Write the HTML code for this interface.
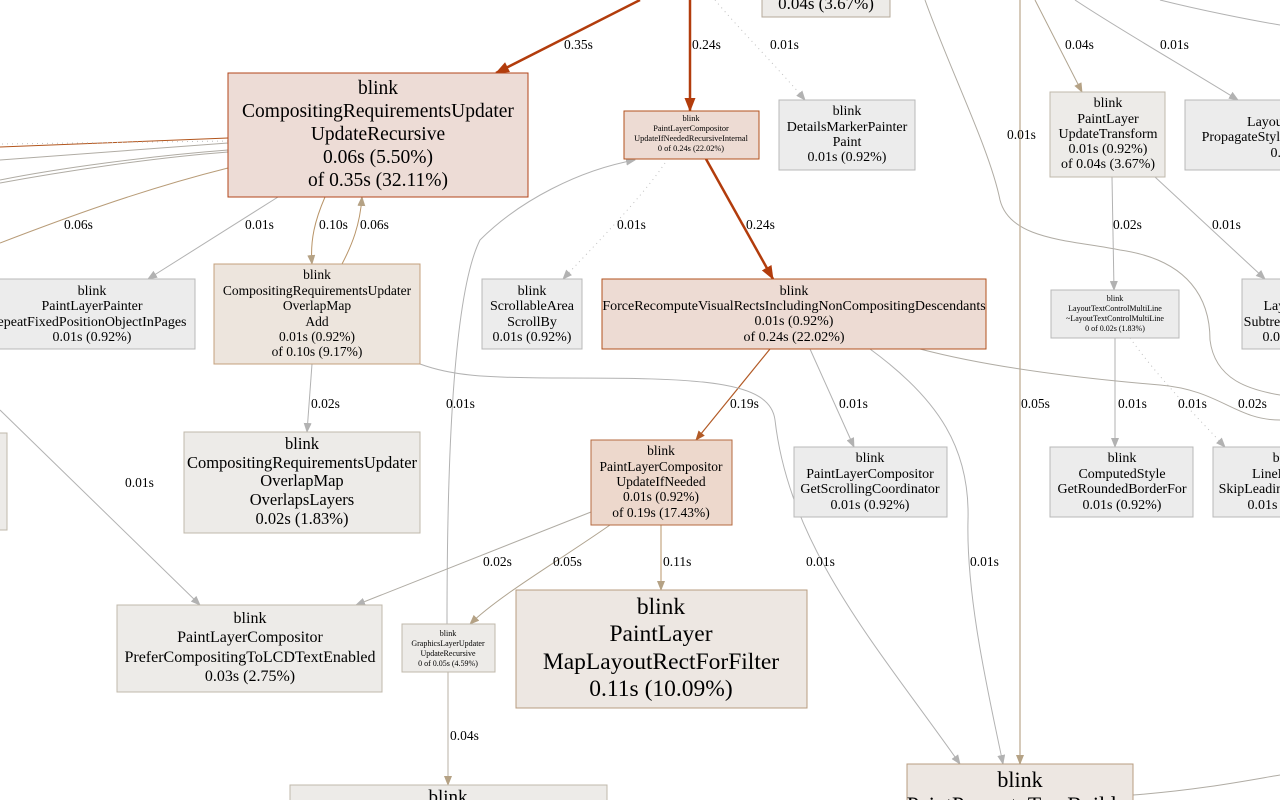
<!DOCTYPE html>
<html><head><meta charset="utf-8"><style>
html,body{margin:0;padding:0;background:#fff;width:1280px;height:800px;overflow:hidden}
svg{display:block}
text{font-family:"Liberation Serif",serif;fill:#000;text-anchor:middle}
.l{font-size:13.5px;text-anchor:start}
</style></head><body>
<svg width="1280" height="800" viewBox="0 0 1280 800">
<defs>
<marker id="ar" markerWidth="10" markerHeight="8" refX="9" refY="4" orient="auto" markerUnits="userSpaceOnUse"><path d="M0,0 L10,4 L0,8z" fill="#b2b2b2"/></marker>
<marker id="ab" markerWidth="10" markerHeight="8" refX="9" refY="4" orient="auto" markerUnits="userSpaceOnUse"><path d="M0,0 L10,4 L0,8z" fill="#b5a285"/></marker>
<marker id="ao" markerWidth="14" markerHeight="11" refX="13" refY="5.5" orient="auto" markerUnits="userSpaceOnUse"><path d="M0,0 L14,5.5 L0,11z" fill="#b23c0c"/></marker>
<marker id="am" markerWidth="10" markerHeight="8" refX="9" refY="4" orient="auto" markerUnits="userSpaceOnUse"><path d="M0,0 L10,4 L0,8z" fill="#b25a26"/></marker>
</defs>
<g fill="none" stroke-width="1">
<path d="M228,138 L0,147" stroke="#b2551c"/>
<path d="M228,141 L0,144" stroke="#c0c0c0" stroke-dasharray="1,4"/>
<path d="M228,143 L0,160" stroke="#b0aca4"/>
<path d="M228,150 C150,156 60,168 0,180" stroke="#b0aca4"/>
<path d="M228,152 C150,158 60,172 0,183" stroke="#b0aca4"/>
<path d="M228,168 C140,190 60,220 0,243" stroke="#b89c78"/>
<path d="M278,197 L148,279" stroke="#b2b2b2" marker-end="url(#ar)"/>
<path d="M325,197 C315,220 310,240 312,264" stroke="#b89468" marker-end="url(#ab)"/>
<path d="M342,264 C352,245 360,225 362,197" stroke="#b89468" marker-end="url(#ab)"/>
<path d="M640,0 L496,73" stroke="#b23c0c" stroke-width="2.5" marker-end="url(#ao)"/>
<path d="M690,0 L690,111" stroke="#b23c0c" stroke-width="2.5" marker-end="url(#ao)"/>
<path d="M715,0 C740,30 780,70 805,100" stroke="#c0c0c0" stroke-dasharray="1,4" marker-end="url(#ar)"/>
<path d="M706,159 L773,279" stroke="#b23c0c" stroke-width="2.5" marker-end="url(#ao)"/>
<path d="M665,163 C640,200 590,250 563,279" stroke="#c0c0c0" stroke-dasharray="1,4" marker-end="url(#ar)"/>
<path d="M447,624 C447,500 450,300 480,240 C520,200 580,170 635,160" stroke="#b2b2b2" marker-end="url(#ar)"/>
<path d="M925,0 C950,70 990,150 1000,200 C1010,240 1070,240 1120,250 C1190,260 1210,300 1210,340 C1215,380 1250,390 1280,395" stroke="#b0aca4"/>
<path d="M1020,0 L1020,764" stroke="#c8b8a4" stroke-width="1.5" marker-end="url(#ab)"/>
<path d="M1035,0 L1082,92" stroke="#b0a490" marker-end="url(#ab)"/>
<path d="M1075,0 C1120,30 1190,70 1238,100" stroke="#b2b2b2" marker-end="url(#ar)"/>
<path d="M1160,0 C1200,10 1250,20 1280,25" stroke="#b2b2b2"/>
<path d="M1112,177 L1114,290" stroke="#b2b2b2" marker-end="url(#ar)"/>
<path d="M1155,177 L1265,279" stroke="#b2b2b2" marker-end="url(#ar)"/>
<path d="M1115,338 L1115,447" stroke="#b2b2b2" marker-end="url(#ar)"/>
<path d="M1130,338 C1160,380 1200,420 1225,447" stroke="#c0c0c0" stroke-dasharray="1,4" marker-end="url(#ar)"/>
<path d="M770,349 L696,440" stroke="#b25a26" stroke-width="1.2" marker-end="url(#am)"/>
<path d="M810,349 L854,447" stroke="#b2b2b2" marker-end="url(#ar)"/>
<path d="M870,349 C940,400 970,450 968,520 C966,600 990,700 1003,764" stroke="#b2b2b2" marker-end="url(#ar)"/>
<path d="M920,349 C1000,370 1100,380 1160,385 C1220,390 1235,420 1280,420" stroke="#b0aca4"/>
<path d="M312,364 L307,432" stroke="#b2b2b2" marker-end="url(#ar)"/>
<path d="M420,364 C450,375 480,378 560,378 C700,378 770,380 775,420 C790,550 880,650 960,764" stroke="#b2b2b2" marker-end="url(#ar)"/>
<path d="M0,410 L200,605" stroke="#b2b2b2" marker-end="url(#ar)"/>
<path d="M591,512 L356,605" stroke="#b0aca4" marker-end="url(#ar)"/>
<path d="M610,525 C560,560 500,595 470,624" stroke="#b0a490" marker-end="url(#ab)"/>
<path d="M661,525 L661,590" stroke="#b89468" marker-end="url(#ab)"/>
<path d="M448,672 L448,785" stroke="#b8b0a4" marker-end="url(#ab)"/>
<path d="M1133,795 C1200,790 1250,780 1280,775" stroke="#b0aca4"/>
</g>
<g stroke-width="1">
<rect x="762" y="-20" width="128" height="37" fill="#edebe8" stroke="#b5aa9a"/>
<rect x="228" y="73" width="300" height="124" fill="#eddcd6" stroke="#b2451a"/>
<rect x="624" y="111" width="135" height="48" fill="#eddbd3" stroke="#b2511e"/>
<rect x="779" y="100" width="136" height="70" fill="#ececec" stroke="#b8b8b8"/>
<rect x="1050" y="92" width="115" height="85" fill="#edebe8" stroke="#c0b8ab"/>
<rect x="1185" y="100" width="250" height="70" fill="#ececec" stroke="#b8b8b8"/>
<rect x="-5" y="279" width="200" height="70" fill="#ececec" stroke="#b8b8b8"/>
<rect x="214" y="264" width="206" height="100" fill="#ede5dd" stroke="#c4a07c"/>
<rect x="482" y="279" width="100" height="70" fill="#ececec" stroke="#b8b8b8"/>
<rect x="602" y="279" width="384" height="70" fill="#eddbd3" stroke="#b2511e"/>
<rect x="1051" y="290" width="128" height="48" fill="#ececec" stroke="#b8b8b8"/>
<rect x="1242" y="279" width="120" height="70" fill="#ececec" stroke="#b8b8b8"/>
<rect x="-5" y="433" width="12" height="97" fill="#edebe8" stroke="#c0b8ab"/>
<rect x="184" y="432" width="236" height="101" fill="#edebe8" stroke="#c0b8ab"/>
<rect x="591" y="440" width="141" height="85" fill="#edd8cc" stroke="#b56a3f"/>
<rect x="794" y="447" width="153" height="70" fill="#ececec" stroke="#b8b8b8"/>
<rect x="1050" y="447" width="143" height="70" fill="#ececec" stroke="#b8b8b8"/>
<rect x="1213" y="447" width="150" height="70" fill="#ececec" stroke="#b8b8b8"/>
<rect x="117" y="605" width="265" height="87" fill="#edebe8" stroke="#c0b8ab"/>
<rect x="402" y="624" width="93" height="48" fill="#edebe8" stroke="#c0b8ab"/>
<rect x="516" y="590" width="291" height="118" fill="#ede7e2" stroke="#b89c80"/>
<rect x="290" y="785" width="317" height="40" fill="#edebe8" stroke="#c0b8ab"/>
<rect x="907" y="764" width="226" height="60" fill="#ede7e2" stroke="#b89c80"/>
</g>
<text x="826" y="9" font-size="17">0.04s (3.67%)</text>
<g font-size="19.5"><text x="378" y="94">blink</text><text x="378" y="117">CompositingRequirementsUpdater</text><text x="378" y="140">UpdateRecursive</text><text x="378" y="163">0.06s (5.50%)</text><text x="378" y="186">of 0.35s (32.11%)</text></g>
<g font-size="8.3"><text x="691" y="121">blink</text><text x="691" y="131">PaintLayerCompositor</text><text x="691" y="141">UpdateIfNeededRecursiveInternal</text><text x="691" y="151">0 of 0.24s (22.02%)</text></g>
<g font-size="14"><text x="847" y="115">blink</text><text x="847" y="131">DetailsMarkerPainter</text><text x="847" y="146">Paint</text><text x="847" y="161">0.01s (0.92%)</text></g>
<g font-size="14"><text x="1108" y="107">blink</text><text x="1108" y="123">PaintLayer</text><text x="1108" y="138">UpdateTransform</text><text x="1108" y="153">0.01s (0.92%)</text><text x="1108" y="168">of 0.04s (3.67%)</text></g>
<g font-size="14"><text x="1310" y="110">blink</text><text x="1310" y="126">LayoutObjectChildren</text><text x="1310" y="141">PropagateStyleToAnonymousChildren</text><text x="1310" y="157">0.01s (0.92%)</text></g>
<g font-size="14"><text x="92" y="295">blink</text><text x="92" y="310">PaintLayerPainter</text><text x="92" y="326">epeatFixedPositionObjectInPages</text><text x="92" y="341">0.01s (0.92%)</text></g>
<g font-size="13.5"><text x="317" y="279">blink</text><text x="317" y="295">CompositingRequirementsUpdater</text><text x="317" y="310">OverlapMap</text><text x="317" y="326">Add</text><text x="317" y="341">0.01s (0.92%)</text><text x="317" y="356">of 0.10s (9.17%)</text></g>
<g font-size="14"><text x="532" y="295">blink</text><text x="532" y="310">ScrollableArea</text><text x="532" y="326">ScrollBy</text><text x="532" y="341">0.01s (0.92%)</text></g>
<g font-size="14"><text x="794" y="295">blink</text><text x="794" y="310">ForceRecomputeVisualRectsIncludingNonCompositingDescendants</text><text x="794" y="325">0.01s (0.92%)</text><text x="794" y="341">of 0.24s (22.02%)</text></g>
<g font-size="8"><text x="1115" y="301">blink</text><text x="1115" y="311">LayoutTextControlMultiLine</text><text x="1115" y="321">~LayoutTextControlMultiLine</text><text x="1115" y="331">0 of 0.02s (1.83%)</text></g>
<g font-size="14"><text x="1302" y="295">blink</text><text x="1302" y="310">LayoutObject</text><text x="1302" y="326">SubtreeLayoutScope</text><text x="1302" y="341">0.01s (0.92%)</text></g>
<g font-size="16.5"><text x="302" y="449">blink</text><text x="302" y="468">CompositingRequirementsUpdater</text><text x="302" y="486">OverlapMap</text><text x="302" y="505">OverlapsLayers</text><text x="302" y="524">0.02s (1.83%)</text></g>
<g font-size="13.5"><text x="661" y="455">blink</text><text x="661" y="471">PaintLayerCompositor</text><text x="661" y="486">UpdateIfNeeded</text><text x="661" y="501">0.01s (0.92%)</text><text x="661" y="517">of 0.19s (17.43%)</text></g>
<g font-size="14"><text x="870" y="462">blink</text><text x="870" y="478">PaintLayerCompositor</text><text x="870" y="493">GetScrollingCoordinator</text><text x="870" y="509">0.01s (0.92%)</text></g>
<g font-size="14"><text x="1122" y="462">blink</text><text x="1122" y="478">ComputedStyle</text><text x="1122" y="493">GetRoundedBorderFor</text><text x="1122" y="509">0.01s (0.92%)</text></g>
<g font-size="14"><text x="1287" y="462">blink</text><text x="1287" y="478">LineBreaker</text><text x="1287" y="493">SkipLeadingWhitespace</text><text x="1287" y="509">0.01s (0.92%)</text></g>
<g font-size="16"><text x="250" y="623">blink</text><text x="250" y="642">PaintLayerCompositor</text><text x="250" y="662">PreferCompositingToLCDTextEnabled</text><text x="250" y="681">0.03s (2.75%)</text></g>
<g font-size="8"><text x="448" y="636">blink</text><text x="448" y="646">GraphicsLayerUpdater</text><text x="448" y="656">UpdateRecursive</text><text x="448" y="666">0 of 0.05s (4.59%)</text></g>
<g font-size="23.5"><text x="661" y="614">blink</text><text x="661" y="641">PaintLayer</text><text x="661" y="669">MapLayoutRectForFilter</text><text x="661" y="696">0.11s (10.09%)</text></g>
<text x="448" y="803" font-size="19">blink</text>
<g font-size="22"><text x="1020" y="787">blink</text><text x="1020" y="812">PaintPropertyTreeBuilder</text></g>
<g>
<text class="l" x="564" y="49">0.35s</text>
<text class="l" x="692" y="49">0.24s</text>
<text class="l" x="770" y="49">0.01s</text>
<text class="l" x="1065" y="49">0.04s</text>
<text class="l" x="1160" y="49">0.01s</text>
<text class="l" x="1007" y="139">0.01s</text>
<text class="l" x="64" y="229">0.06s</text>
<text class="l" x="245" y="229">0.01s</text>
<text class="l" x="319" y="229">0.10s</text>
<text class="l" x="360" y="229">0.06s</text>
<text class="l" x="617" y="229">0.01s</text>
<text class="l" x="746" y="229">0.24s</text>
<text class="l" x="1113" y="229">0.02s</text>
<text class="l" x="1212" y="229">0.01s</text>
<text class="l" x="311" y="408">0.02s</text>
<text class="l" x="446" y="408">0.01s</text>
<text class="l" x="730" y="408">0.19s</text>
<text class="l" x="839" y="408">0.01s</text>
<text class="l" x="1021" y="408">0.05s</text>
<text class="l" x="1118" y="408">0.01s</text>
<text class="l" x="1178" y="408">0.01s</text>
<text class="l" x="1238" y="408">0.02s</text>
<text class="l" x="125" y="487">0.01s</text>
<text class="l" x="483" y="566">0.02s</text>
<text class="l" x="553" y="566">0.05s</text>
<text class="l" x="663" y="566">0.11s</text>
<text class="l" x="806" y="566">0.01s</text>
<text class="l" x="970" y="566">0.01s</text>
<text class="l" x="450" y="740">0.04s</text>
</g>
</svg>
</body></html>
